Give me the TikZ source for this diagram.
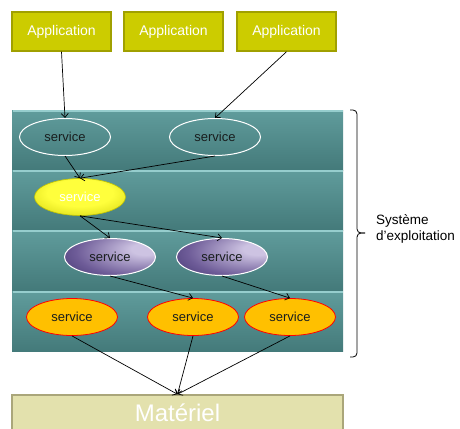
\documentclass[tikz,border=0pt]{standalone}
\usepackage{fontspec}
\setmainfont{Liberation Sans}
\usetikzlibrary{shapes.geometric,arrows.meta}

\definecolor{appfill}{RGB}{204,204,0}
\definecolor{appline}{RGB}{160,160,0}
\definecolor{layertop}{RGB}{96,156,156}
\definecolor{layerbot}{RGB}{68,122,122}
\definecolor{layerlight}{RGB}{150,205,205}
\definecolor{ylight}{RGB}{255,255,60}
\definecolor{ydark}{RGB}{196,196,0}
\definecolor{plight}{RGB}{205,195,226}
\definecolor{pmid}{RGB}{110,92,152}
\definecolor{pdark}{RGB}{34,24,82}
\definecolor{orfill}{RGB}{255,192,0}
\definecolor{hwfill}{RGB}{227,225,173}
\definecolor{hwline}{RGB}{170,166,122}
\definecolor{svctext}{RGB}{25,30,30}

\pgfdeclareradialshading{yellowball}{\pgfpoint{0bp}{8bp}}{color(0bp)=(ylight); color(18bp)=(ylight); color(45bp)=(ydark); color(60bp)=(ydark)}
\pgfdeclareradialshading{purpleball}{\pgfpoint{22bp}{12bp}}{color(0bp)=(plight); color(8bp)=(plight); color(32bp)=(pmid); color(58bp)=(pdark); color(80bp)=(pdark)}

\begin{document}
\begin{tikzpicture}[x=1pt,y=-1pt,
  app/.style={draw=appline,fill=appfill,line width=1.5pt,minimum width=99pt,minimum height=39pt,inner sep=0pt,text=white,font=\fontsize{14}{16}\selectfont},
  svc/.style={ellipse,minimum width=91pt,minimum height=37pt,inner sep=0pt,text=svctext,font=\fontsize{13}{15}\selectfont},
  link/.style={-{Straight Barb[length=4pt,width=7pt]},line width=0.7pt,black}]
\clip (0,0) rectangle (460,428);

% couches du systeme
\foreach \t in {110,170,230,291}{
  \fill[top color=layertop,bottom color=layerbot] (12,\t) rectangle (343,\t+60);
  \draw[layerlight,line width=1.5pt] (12.5,\t+1) -- (342.5,\t+1);
}

\node[app] (app1) at (61.5,31.5) {Application};
\node[app] (app2) at (173.5,31.5) {Application};
\node[app] (app3) at (286.5,31.5) {Application};

\node[svc,draw=white,line width=1pt] (s1a) at (65,137) {service};
\node[svc,draw=white,line width=1pt] (s1b) at (215,137) {service};

\node[svc,shading=yellowball,draw=ydark,line width=0.6pt,text=white] (s2) at (80,197) {service};

\node[svc,shading=purpleball,draw=white,line width=1pt] (s3a) at (110,257) {service};
\node[svc,shading=purpleball,draw=white,line width=1pt] (s3b) at (222,257) {service};

\node[svc,fill=orfill,draw=red,line width=0.8pt] (s4a) at (72,317) {service};
\node[svc,fill=orfill,draw=red,line width=0.8pt] (s4b) at (193,317) {service};
\node[svc,fill=orfill,draw=red,line width=0.8pt] (s4c) at (290,317) {service};

\node[draw=hwline,fill=hwfill,line width=1.5pt,minimum width=331pt,minimum height=36pt,inner sep=0pt,text=white,font=\fontsize{24}{26}\selectfont] (hw) at (177.5,413) {Matériel};

\draw[link] (app1.south) -- (s1a.north);
\draw[link] (app3.south) -- (s1b.north);
\draw[link] (s1a.south) -- (s2.north);
\draw[link] (s1b.south) -- (s2.north);
\draw[link] (s2.south) -- (s3a.north);
\draw[link] (s2.south) -- (s3b.north);
\draw[link] (s3a.south) -- (s4b.north);
\draw[link] (s3b.south) -- (s4c.north);
\draw[link] (s4a.south) -- (hw.north);
\draw[link] (s4b.south) -- (hw.north);
\draw[link] (s4c.south) -- (hw.north);

% accolade
\draw[line width=0.8pt,rounded corners=4pt] (350,110) -- (357,110) -- (357,233) -- (365,233);
\draw[line width=0.8pt,rounded corners=4pt] (365,233) -- (357,233) -- (357,357) -- (350,357);
\node[anchor=west,align=left,inner sep=0pt,font=\fontsize{13.5}{15.5}\selectfont] (os) at (376,229) {Système\\d’exploitation};

\end{tikzpicture}
\end{document}
